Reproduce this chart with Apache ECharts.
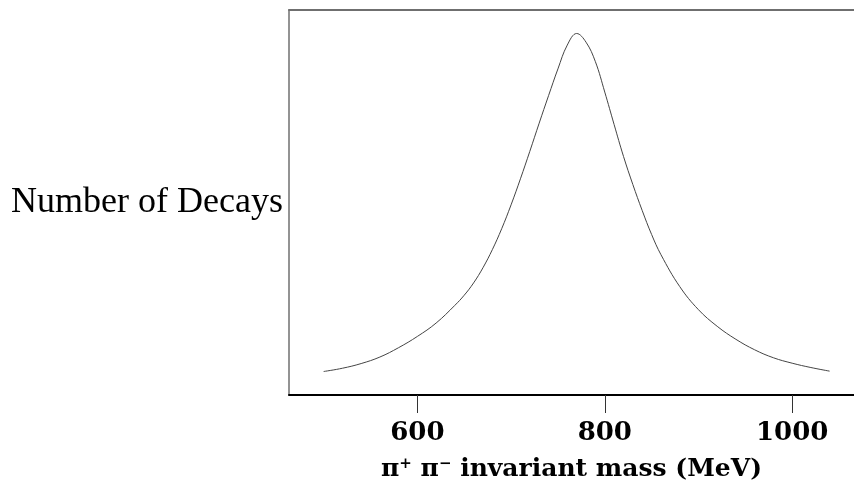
<!DOCTYPE html>
<html>
<head>
<meta charset="utf-8">
<title>Number of Decays</title>
<script src="https://cdn.jsdelivr.net/npm/echarts@6.0.0/dist/echarts.min.js"></script>
<style>
  html, body { margin: 0; padding: 0; background: #fff; }
  #chart { width: 854px; height: 484px; }
</style>
</head>
<body>
<div id="chart"></div>
<script>
// pi+ pi- invariant mass (MeV)
const massMeV = [500, 520, 540, 560, 580, 600, 620, 640, 650, 660, 670, 680, 690, 700, 710, 720, 730, 740, 750, 760, 770,
  780, 790, 800, 810, 820, 830, 840, 850, 860, 880, 900, 920, 940, 960, 980, 1000, 1020, 1040];
// number of decays, arbitrary units (peak = 100)
const decays = [6.5, 7.4, 8.7, 10.5, 13.1, 16.2, 19.9, 24.8, 27.6, 31, 35.2, 40.2, 46, 52.6, 59.8, 67.4, 75.2, 82.8, 90.2, 96.8, 100,
  97.6, 92.2, 83.8, 74.8, 66, 58.2, 51, 44.4, 38.8, 30, 23.6, 19, 15.4, 12.5, 10.3, 8.8, 7.6, 6.6];
const xTicks = [600, 800, 1000];

const chart = echarts.init(document.getElementById("chart"));

const serif = "DejaVu Serif";

const option = {
  animation: false,
  grid: { left: 289, right: 0, top: 10, bottom: 89, outerBoundsMode: "none" },
  xAxis: [
    {
      type: "value",
      position: "bottom",
      min: 463,
      max: 1066,
      axisLine: { show: true, onZero: false, lineStyle: { color: "#000", width: 2 } },
      axisTick: {
        show: true,
        length: 18,
        customValues: xTicks,
        lineStyle: { color: "#333", width: 1 }
      },
      axisLabel: {
        customValues: xTicks,
        formatter: (v) => String(v),
        margin: 25,
        fontFamily: serif,
        fontWeight: "bold",
        fontSize: 26,
        color: "#000"
      },
      splitLine: { show: false },
      name: "π{sup|+} π{sup|−} invariant mass (MeV)",
      nameLocation: "middle",
      nameGap: 62,
      nameTextStyle: {
        fontFamily: serif,
        fontWeight: "bold",
        fontSize: 25,
        color: "#000",
        rich: {
          sup: { fontFamily: serif, fontSize: 15, color: "#000", verticalAlign: "top", padding: [0, 0, 10, 0] }
        }
      }
    },
    {
      type: "value",
      position: "top",
      min: 463,
      max: 1066,
      axisLine: { show: true, onZero: false, lineStyle: { color: "#6f6f6f", width: 2 } },
      axisTick: { show: false },
      axisLabel: { show: false },
      splitLine: { show: false }
    }
  ],
  yAxis: {
    type: "value",
    min: 0,
    max: 106.5,
    axisLine: { show: true, onZero: false, lineStyle: { color: "#6f6f6f", width: 1.5 } },
    axisTick: { show: false },
    axisLabel: { show: false },
    splitLine: { show: false },
    name: "Number of Decays",
    nameLocation: "middle",
    nameRotate: 0,
    nameGap: 6,
    nameTextStyle: {
      fontFamily: "Liberation Serif",
      fontSize: 36,
      color: "#000",
      align: "right",
      verticalAlign: "middle",
      padding: [0, 0, 34, 0]
    }
  },
  series: [
    {
      type: "line",
      xAxisIndex: 0,
      data: massMeV.map((m, i) => [m, decays[i]]),
      showSymbol: false,
      smooth: 0.4,
      lineStyle: { color: "#444", width: 1 }
    }
  ]
};

chart.setOption(option);
</script>
</body>
</html>
